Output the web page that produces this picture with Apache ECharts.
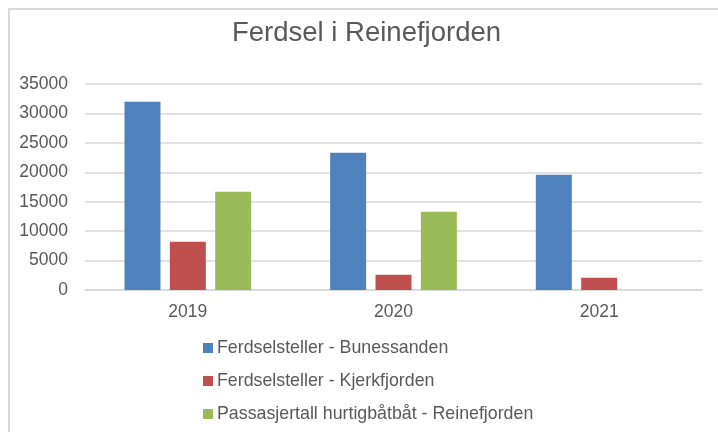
<!DOCTYPE html>
<html>
<head>
<meta charset="utf-8">
<script src="https://cdn.jsdelivr.net/npm/echarts@6/dist/echarts.min.js"></script>
<style>html,body{margin:0;padding:0;background:#fff}#c{width:718px;height:432px}</style>
</head>
<body>
<div id="c"></div>
<script>
const categories = ['2019', '2020', '2021'];
const seriesNames = ['Ferdselsteller - Bunessanden', 'Ferdselsteller - Kjerkfjorden', 'Passasjertall hurtigbåtbåt - Reinefjorden'];
const bunessanden = [32000, 23300, 19600];
const kjerkfjorden = [8200, 2600, 2100];
const reinefjorden = [16700, 13300, null];
const yTicks = [0, 5000, 10000, 15000, 20000, 25000, 30000, 35000];
const colors = ['#4F81BD', '#C0504D', '#9BBB59'];

const font = 'Liberation Sans, Arial, sans-serif';
const chart = echarts.init(document.getElementById('c'), null, {renderer: 'canvas'});
const values = [bunessanden, kjerkfjorden, reinefjorden];
chart.setOption({
  animation: false,
  backgroundColor: '#fff',
  graphic: [{
    type: 'rect', silent: true, z: -1,
    shape: {x: 9, y: 9, width: 800, height: 600},
    style: {fill: '#fff', stroke: '#d9d9d9', lineWidth: 2}
  }],
  title: {
    text: 'Ferdsel i Reinefjorden',
    left: 232, top: 19, padding: 0,
    textStyle: {fontFamily: font, fontSize: 27.5, fontWeight: 'normal', color: '#595959'}
  },
  legend: {
    orient: 'vertical', left: 203, top: 338, padding: 0,
    itemWidth: 10, itemHeight: 10, itemGap: 13, icon: 'rect',
    data: seriesNames,
    textStyle: {fontFamily: font, fontSize: 17.8, color: '#595959', lineHeight: 20, padding: [0, 0, 0, -1]}
  },
  grid: {left: 85, right: 16, top: 84, bottom: 142, containLabel: false},
  xAxis: {
    type: 'category', data: categories,
    axisLine: {show: true, lineStyle: {color: '#d9d9d9', width: 1.5}},
    axisTick: {show: false},
    axisLabel: {fontFamily: font, fontSize: 17.5, color: '#595959', margin: 13}
  },
  yAxis: {
    type: 'value', min: yTicks[0], max: yTicks[yTicks.length - 1], interval: yTicks[1] - yTicks[0],
    axisLine: {show: false}, axisTick: {show: false},
    splitLine: {lineStyle: {color: '#d9d9d9', width: 1.5}},
    axisLabel: {fontFamily: font, fontSize: 17.5, color: '#595959', margin: 17,
      padding: [4, 0, 0, 0], formatter: v => String(v)}
  },
  series: seriesNames.map((n, i) => ({
    name: n, type: 'bar', data: values[i],
    barWidth: 36, barGap: '26%',
    itemStyle: {color: colors[i]}
  }))
});
</script>
</body>
</html>
